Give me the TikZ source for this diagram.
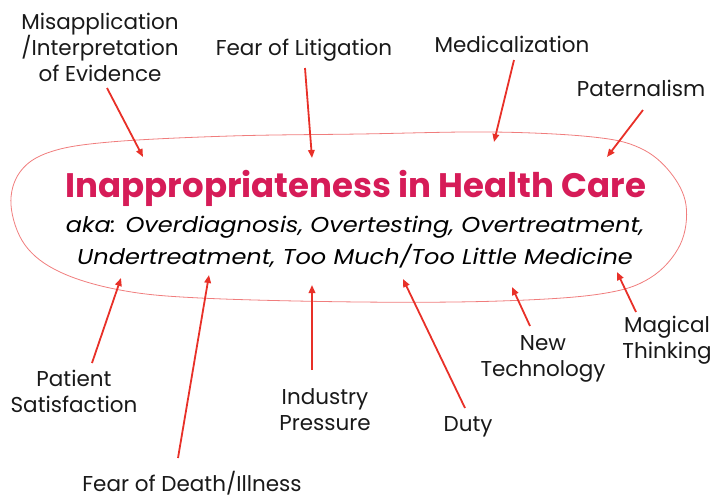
\documentclass[tikz,border=0pt]{standalone}
\usepackage{fontspec}
\setmainfont{Poppins}
\newfontfamily\subfont[FakeStretch=1.12]{Poppins}
\usetikzlibrary{arrows.meta}
\definecolor{titlepink}{RGB}{214,28,88}
\definecolor{arrowred}{RGB}{232,48,40}
\definecolor{curvepink}{RGB}{240,125,125}
\tikzset{
 lbl/.style={font=\fontsize{21.5}{26}\selectfont, align=center, inner sep=0pt, text=black!90},
 arr/.style={draw=arrowred, line width=1.8pt, -{Triangle[length=8pt,width=6.5pt]}}
}
\begin{document}
\begin{tikzpicture}[x=1pt,y=-1pt]
\useasboundingbox (0,0) rectangle (713,499);
\draw[curvepink, line width=0.8pt] plot[smooth cycle, tension=0.6] coordinates {
 (360,134) (493,132) (593,137) (640,148) (670,172) (686,205) (680,245) (650,278)
 (600,294) (500,301) (360,302) (200,298) (120,290) (60,272) (25,245) (11,205)
 (20,172) (50,152) (110,142) (230,136)};
% central text
\node[inner sep=0pt, text=titlepink, font=\fontsize{34}{38}\bfseries\selectfont] (title) at (356,188) {Inappropriateness in Health Care};
\node[inner sep=0pt, align=center, font=\subfont\fontsize{21.5}{32}\itshape\selectfont] (sub) at (355,242) {aka: Overdiagnosis, Overtesting, Overtreatment,\\Undertreatment, Too Much/Too Little Medicine};
% labels
\node[lbl] (mis) at (100,47) {Misapplication\\/Interpretation\\of Evidence};
\node[lbl] (lit) at (304,50) {Fear of Litigation};
\node[lbl] (med) at (512,44) {Medicalization};
\node[lbl] (pat) at (641,88) {Paternalism};
\node[lbl] (ps) at (74,391) {Patient\\Satisfaction};
\node[lbl] (fod) at (192,483) {Fear of Death/Illness};
\node[lbl] (ind) at (325,410) {Industry\\Pressure};
\node[lbl] (duty) at (468,427) {Duty};
\node[lbl] (nt) at (543,359) {New\\Technology};
\node[lbl] (mt) at (667,340) {Magical\\Thinking};
% arrow end points
\coordinate (misS) at (107,88);  \coordinate (misT) at (143,157);
\coordinate (litS) at (305,68);  \coordinate (litT) at (312,158);
\coordinate (medS) at (514,60);  \coordinate (medT) at (494,142);
\coordinate (patS) at (643,110); \coordinate (patT) at (607,157);
\coordinate (psS) at (92,363);   \coordinate (psT) at (121,278);
\coordinate (fodS) at (178,458); \coordinate (fodT) at (209,275);
\coordinate (indS) at (312,370); \coordinate (indT) at (312,285);
\coordinate (dutyS) at (465,408); \coordinate (dutyT) at (403,279);
\coordinate (ntS) at (530,326);  \coordinate (ntT) at (512,287);
\coordinate (mtS) at (636,312);  \coordinate (mtT) at (617,272);
\foreach \n in {mis,lit,med,pat,ps,fod,ind,duty,nt,mt}
  \draw[arr] (\n S) -- (\n T);
\end{tikzpicture}
\end{document}
